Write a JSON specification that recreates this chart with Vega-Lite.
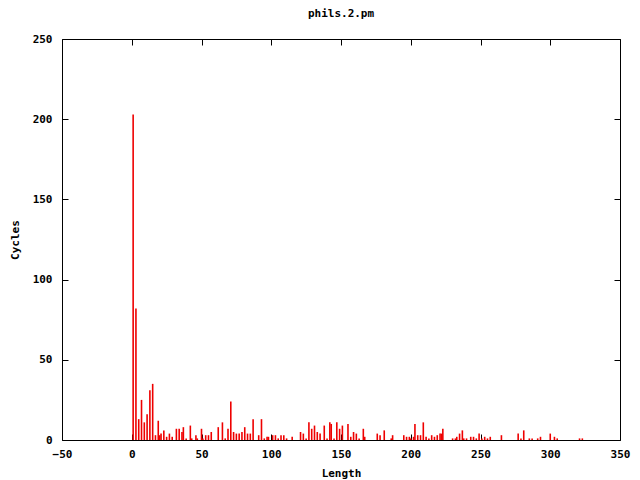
{
  "$schema": "https://vega.github.io/schema/vega-lite/v6.json",
  "width": 558,
  "height": 401,
  "autosize": {"type": "none"},
  "padding": {"left": 62, "top": 39, "right": 20, "bottom": 40},
  "background": "white",
  "title": {"text": "phils.2.pm", "font": "DejaVu Sans Mono", "fontSize": 11, "fontWeight": "bold", "color": "black", "offset": 14, "anchor": "middle"},
  "config": {
    "view": {"stroke": "black", "strokeWidth": 1},
    "axis": {"labelFont": "DejaVu Sans Mono", "labelFontSize": 11, "labelFontWeight": "bold", "labelColor": "black", "labelFlush": false, "titleFont": "DejaVu Sans Mono", "titleFontSize": 11, "titleFontWeight": "bold", "titleColor": "black", "grid": false, "domain": false, "tickColor": "black", "tickSize": -6, "labelPadding": 16}
  },
  "data": {"values": [
    {"length": 1, "cycles": 203}, {"length": 3, "cycles": 82}, {"length": 5, "cycles": 13}, {"length": 7, "cycles": 25},
    {"length": 9, "cycles": 11}, {"length": 11, "cycles": 16}, {"length": 13, "cycles": 31}, {"length": 15, "cycles": 35},
    {"length": 17, "cycles": 3}, {"length": 19, "cycles": 12}, {"length": 20, "cycles": 3}, {"length": 21, "cycles": 4},
    {"length": 23, "cycles": 6}, {"length": 25, "cycles": 2}, {"length": 27, "cycles": 4}, {"length": 29, "cycles": 2},
    {"length": 32, "cycles": 7}, {"length": 34, "cycles": 7}, {"length": 36, "cycles": 5}, {"length": 37, "cycles": 8},
    {"length": 39, "cycles": 1}, {"length": 42, "cycles": 9}, {"length": 43, "cycles": 1}, {"length": 46, "cycles": 3},
    {"length": 47, "cycles": 1}, {"length": 50, "cycles": 7}, {"length": 51, "cycles": 1}, {"length": 53, "cycles": 3},
    {"length": 55, "cycles": 3}, {"length": 57, "cycles": 5}, {"length": 62, "cycles": 8}, {"length": 65, "cycles": 11},
    {"length": 67, "cycles": 1}, {"length": 69, "cycles": 7}, {"length": 71, "cycles": 24}, {"length": 73, "cycles": 5},
    {"length": 75, "cycles": 4}, {"length": 77, "cycles": 4}, {"length": 79, "cycles": 5}, {"length": 81, "cycles": 8},
    {"length": 83, "cycles": 4}, {"length": 85, "cycles": 4}, {"length": 87, "cycles": 13}, {"length": 91, "cycles": 3},
    {"length": 93, "cycles": 13}, {"length": 95, "cycles": 1}, {"length": 97, "cycles": 2}, {"length": 98, "cycles": 2},
    {"length": 101, "cycles": 3}, {"length": 103, "cycles": 3}, {"length": 105, "cycles": 1}, {"length": 107, "cycles": 3},
    {"length": 109, "cycles": 3}, {"length": 111, "cycles": 1}, {"length": 115, "cycles": 2}, {"length": 121, "cycles": 5},
    {"length": 123, "cycles": 4}, {"length": 125, "cycles": 1}, {"length": 127, "cycles": 11}, {"length": 129, "cycles": 7},
    {"length": 131, "cycles": 9}, {"length": 133, "cycles": 5}, {"length": 135, "cycles": 4}, {"length": 138, "cycles": 9},
    {"length": 140, "cycles": 1}, {"length": 142, "cycles": 11}, {"length": 143, "cycles": 10}, {"length": 145, "cycles": 1},
    {"length": 147, "cycles": 11}, {"length": 149, "cycles": 7}, {"length": 151, "cycles": 9}, {"length": 155, "cycles": 10},
    {"length": 157, "cycles": 2}, {"length": 159, "cycles": 5}, {"length": 161, "cycles": 4}, {"length": 163, "cycles": 1},
    {"length": 166, "cycles": 7}, {"length": 167, "cycles": 2}, {"length": 176, "cycles": 4}, {"length": 178, "cycles": 3},
    {"length": 181, "cycles": 6}, {"length": 186, "cycles": 1}, {"length": 187, "cycles": 3}, {"length": 195, "cycles": 3},
    {"length": 197, "cycles": 2}, {"length": 199, "cycles": 2}, {"length": 200, "cycles": 1}, {"length": 202, "cycles": 2},
    {"length": 203, "cycles": 10}, {"length": 205, "cycles": 3}, {"length": 207, "cycles": 3}, {"length": 209, "cycles": 11},
    {"length": 211, "cycles": 2}, {"length": 213, "cycles": 1}, {"length": 215, "cycles": 3}, {"length": 217, "cycles": 2},
    {"length": 219, "cycles": 3}, {"length": 221, "cycles": 4}, {"length": 222, "cycles": 4}, {"length": 223, "cycles": 7},
    {"length": 230, "cycles": 1}, {"length": 232, "cycles": 1}, {"length": 233, "cycles": 2}, {"length": 235, "cycles": 4},
    {"length": 237, "cycles": 6}, {"length": 238, "cycles": 1}, {"length": 240, "cycles": 1}, {"length": 243, "cycles": 2},
    {"length": 245, "cycles": 2}, {"length": 247, "cycles": 1}, {"length": 249, "cycles": 4}, {"length": 251, "cycles": 1},
    {"length": 253, "cycles": 2}, {"length": 255, "cycles": 1}, {"length": 257, "cycles": 2}, {"length": 265, "cycles": 3},
    {"length": 277, "cycles": 4}, {"length": 279, "cycles": 1}, {"length": 281, "cycles": 6}, {"length": 285, "cycles": 1},
    {"length": 287, "cycles": 1}, {"length": 291, "cycles": 1}, {"length": 293, "cycles": 2}, {"length": 300, "cycles": 4},
    {"length": 303, "cycles": 2}, {"length": 305, "cycles": 1}, {"length": 321, "cycles": 1}, {"length": 323, "cycles": 1}
  ]},
  "layer": [
    {
      "mark": {"type": "bar", "width": 1.6, "color": "#ee0000", "clip": true},
      "encoding": {
        "x": {"field": "length", "type": "quantitative", "scale": {"domain": [-50, 350], "nice": false, "zero": false, "padding": 0},
              "axis": {"values": [-50, 0, 50, 100, 150, 200, 250, 300, 350], "title": "Length", "titlePadding": 8, "labelPadding": 14}},
        "y": {"field": "cycles", "type": "quantitative", "scale": {"domain": [0, 250], "nice": false, "padding": 0},
              "axis": {"values": [0, 50, 100, 150, 200, 250], "title": "Cycles", "titlePadding": 12}}
      }
    },
    {
      "mark": {"type": "bar", "width": 1.6, "opacity": 0},
      "encoding": {
        "x": {"field": "length", "type": "quantitative", "axis": {"orient": "top", "values": [-50, 0, 50, 100, 150, 200, 250, 300, 350], "labels": false, "title": null}},
        "y": {"field": "cycles", "type": "quantitative", "axis": {"orient": "right", "values": [0, 50, 100, 150, 200, 250], "labels": false, "title": null}}
      }
    }
  ],
  "resolve": {"axis": {"x": "independent", "y": "independent"}}
}
